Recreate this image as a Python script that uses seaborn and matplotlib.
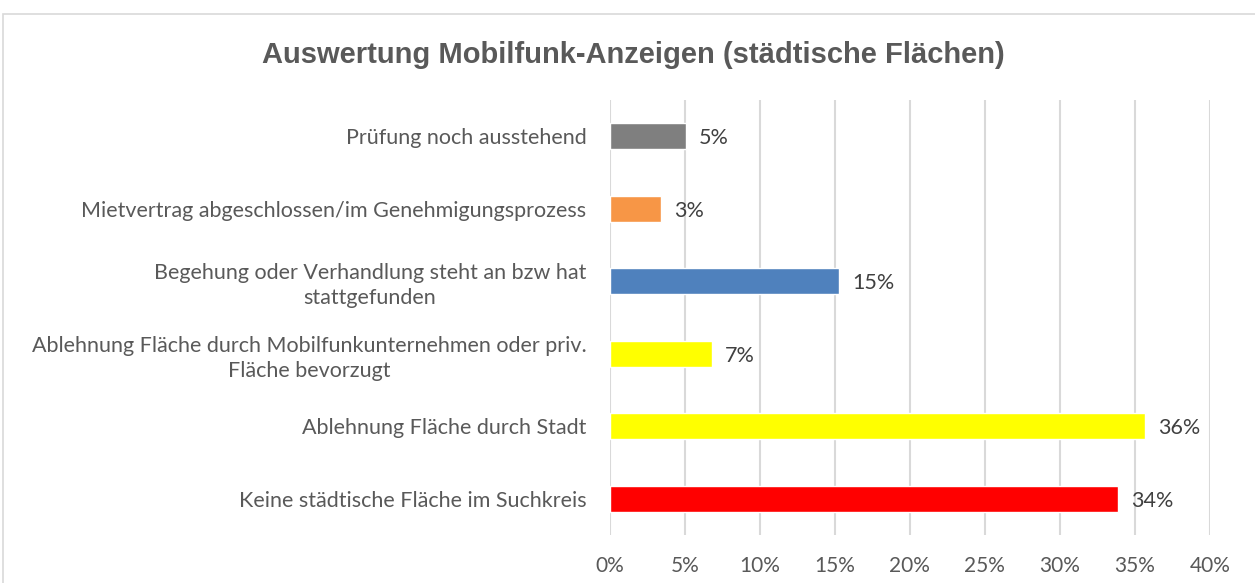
import numpy as np
import pandas as pd
import seaborn as sns
import matplotlib.pyplot as plt
from matplotlib.patches import Rectangle

categories = [
    "Prüfung noch ausstehend",
    "Mietvertrag abgeschlossen/im Genehmigungsprozess",
    "Begehung oder Verhandlung steht an bzw hat\nstattgefunden",
    "Ablehnung Fläche durch Mobilfunkunternehmen oder priv.\nFläche bevorzugt",
    "Ablehnung Fläche durch Stadt",
    "Keine städtische Fläche im Suchkreis",
]
values = [5.1, 3.4, 15.3, 6.8, 35.7, 33.9]
value_labels = ["5%", "3%", "15%", "7%", "36%", "34%"]
bar_colors = ["#7f7f7f", "#f79646", "#4f81bd", "#ffff00", "#ffff00", "#ff0000"]
x_ticks = [0, 5, 10, 15, 20, 25, 30, 35, 40]

sns.set_theme(style="white")
plt.rcParams['font.family'] = ['Lato', 'DejaVu Sans']
text_col = "#595959"

df = pd.DataFrame({"cat": categories, "val": values})

fig = plt.figure(figsize=(12.55, 5.83), dpi=100)
ax = fig.add_axes([0.486, 0.0823, 0.478, 0.7462])

sns.barplot(data=df, x="val", y="cat", hue="cat", palette=bar_colors,
            legend=False, width=0.36, ax=ax, saturation=1)

ax.set_xlim(0, 40)
ax.set_xticks(x_ticks)
ax.set_xticklabels([f"{t}%" for t in x_ticks], fontsize=15, color=text_col)
ax.tick_params(axis='x', length=0, pad=15)
ax.tick_params(axis='y', length=0, pad=17)
for lbl in ax.get_yticklabels():
    lbl.set_fontsize(15.5)
    lbl.set_color(text_col)
    lbl.set_horizontalalignment('right')
    lbl.set_multialignment('center')
    lbl.set_linespacing(1.3)
ax.set_xlabel("")
ax.set_ylabel("")
ax.xaxis.grid(True, color="#d9d9d9", linewidth=1.5)
ax.set_axisbelow(True)
for s in ax.spines.values():
    s.set_visible(False)

for i, (v, t) in enumerate(zip(values, value_labels)):
    ax.text(v + 0.85, i, t, va='center_baseline', ha='left', fontsize=15.5, color="#404040")

fig.text(0.505, 0.905, "Auswertung Mobilfunk-Anzeigen (städtische Flächen)",
         ha='center', va='center', fontsize=21, fontweight='bold',
         color=text_col, family=['Liberation Sans', 'DejaVu Sans'])

fig.patches.append(Rectangle((3 / 1255, -0.1), 1.2, 1 - 14 / 583 + 0.1,
                             transform=fig.transFigure, fill=False,
                             edgecolor="#d9d9d9", linewidth=1.2))

fig.savefig("out.png", dpi=100)
